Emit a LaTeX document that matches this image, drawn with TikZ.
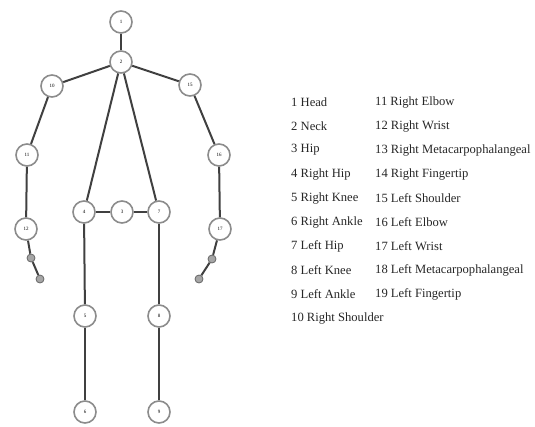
\documentclass[tikz,border=0pt]{standalone}
\usepackage{fontspec}
\setmainfont{Liberation Serif}
\usetikzlibrary{positioning}

\begin{document}
\begin{tikzpicture}[x=1pt, y=-1pt,
    joint/.style={circle, draw=black!45, line width=1.6pt, fill=white, minimum size=22pt, inner sep=0pt, font=\fontsize{5}{6}\selectfont},
    tipj/.style={circle, draw=black!60, line width=0.8pt, fill=black!35, minimum size=8pt, inner sep=0pt},
    bone/.style={draw=black!75, line width=2pt},
    legend/.style={anchor=west, inner sep=0pt, text=black!85, font=\fontsize{12.6}{14}\selectfont}]
    \useasboundingbox (0,0) rectangle (535,426);
    % skeleton joints
    \node[joint] (j1) at (121,22) {1};
    \node[joint] (j2) at (121,62) {2};
    \node[joint] (j10) at (52,86) {10};
    \node[joint] (j15) at (190,85) {15};
    \node[joint] (j11) at (27,155) {11};
    \node[joint] (j16) at (219,155) {16};
    \node[joint] (j12) at (26,229) {12};
    \node[joint] (j17) at (220,229) {17};
    \node[tipj] (j13) at (31,258) {};
    \node[tipj] (j14) at (40,279) {};
    \node[tipj] (j18) at (212,259) {};
    \node[tipj] (j19) at (199,279) {};
    \node[joint] (j4) at (84,212) {4};
    \node[joint] (j3) at (122,212) {3};
    \node[joint] (j7) at (159,212) {7};
    \node[joint] (j5) at (85,316) {5};
    \node[joint] (j8) at (159,316) {8};
    \node[joint] (j6) at (85,412) {6};
    \node[joint] (j9) at (159,412) {9};
    % bones
    \foreach \a/\b in {1/2, 2/10, 2/15, 2/4, 2/7, 10/11, 11/12, 12/13, 13/14, 15/16, 16/17, 17/18, 18/19, 4/3, 3/7, 4/5, 5/6, 7/8, 8/9}
        \draw[bone] (j\a) -- (j\b);
    % legend
    \foreach \t [count=\i] in {1 Head, 2 Neck, 3 Hip, 4 Right Hip, 5 Right Knee, 6 Right Ankle, 7 Left Hip, 8 Left Knee, 9 Left Ankle, 10 Right Shoulder}
        \node[legend] (la\i) at (291,78+24*\i) {\t};
    \foreach \t [count=\i] in {11 Right Elbow, 12 Right Wrist, 13 Right Metacarpophalangeal, 14 Right Fingertip, 15 Left Shoulder, 16 Left Elbow, 17 Left Wrist, 18 Left Metacarpophalangeal, 19 Left Fingertip}
        \node[legend] (lb\i) at (375,78+24*\i) {\t};
\end{tikzpicture}
\end{document}
